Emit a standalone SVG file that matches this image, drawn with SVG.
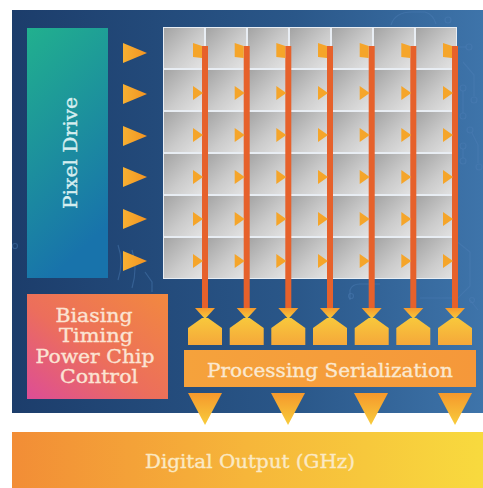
<svg xmlns="http://www.w3.org/2000/svg" width="483" height="488" viewBox="0 0 483 488">
  <defs>
    <linearGradient id="panelGrad" x1="0" y1="0" x2="1" y2="0">
      <stop offset="0" stop-color="#1c3d6b"/>
      <stop offset="0.6" stop-color="#2a5789"/>
      <stop offset="1" stop-color="#3e74aa"/>
    </linearGradient>
    <linearGradient id="driveGrad" x1="0" y1="0" x2="0.3" y2="1">
      <stop offset="0" stop-color="#21b08e"/>
      <stop offset="1" stop-color="#1873ab"/>
    </linearGradient>
    <linearGradient id="biasGrad" x1="1" y1="0" x2="0" y2="1">
      <stop offset="0" stop-color="#f2893f"/>
      <stop offset="0.55" stop-color="#ec6e5c"/>
      <stop offset="1" stop-color="#dd4d96"/>
    </linearGradient>
    <linearGradient id="cellGrad" x1="0" y1="0" x2="1" y2="1">
      <stop offset="0" stop-color="#a3a3a3"/>
      <stop offset="0.55" stop-color="#cbcbcb"/>
      <stop offset="1" stop-color="#e4e4e4"/>
    </linearGradient>
    <linearGradient id="barGrad" x1="0" y1="0" x2="1" y2="0">
      <stop offset="0" stop-color="#f5a23c"/>
      <stop offset="1" stop-color="#f5983a"/>
    </linearGradient>
    <linearGradient id="outGrad" x1="0" y1="0" x2="1" y2="0">
      <stop offset="0" stop-color="#f28d36"/>
      <stop offset="0.5" stop-color="#f6b63a"/>
      <stop offset="1" stop-color="#f8da3e"/>
    </linearGradient>
    <linearGradient id="triDown" x1="0" y1="0" x2="0" y2="1">
      <stop offset="0" stop-color="#f5982c"/>
      <stop offset="1" stop-color="#f8cc3c"/>
    </linearGradient>
    <linearGradient id="penta" x1="0" y1="0" x2="0" y2="1">
      <stop offset="0" stop-color="#f8c83c"/>
      <stop offset="1" stop-color="#f5a83a"/>
    </linearGradient>
    <linearGradient id="driveArrow" x1="0" y1="0" x2="1" y2="0">
      <stop offset="0" stop-color="#f7b032"/>
      <stop offset="1" stop-color="#f39422"/>
    </linearGradient>
    <style>
      .label { font-family: "DejaVu Serif", "Liberation Serif", serif; text-anchor: middle; stroke-width: 0.35; }
      .trace { fill: none; stroke: #4d7fb5; stroke-width: 1.2; opacity: 0.45; }
      .pad { fill: none; stroke: #4d7fb5; stroke-width: 1.2; opacity: 0.45; }
      .cell { fill: url(#cellGrad); }
      .wire { fill: #e6612b; }
      .tick { fill: #f5a52a; }
      .drive-arrow { fill: url(#driveArrow); }
      .neck { fill: url(#triDown); }
      .cap { fill: url(#penta); }
      .out-arrow { fill: url(#triDown); }
    </style>
  </defs>

  <!-- chip substrate -->
  <rect x="0" y="0" width="483" height="488" fill="#ffffff"/>
  <rect id="substrate" x="12" y="10" width="471" height="403" fill="url(#panelGrad)"/>

  <!-- faint circuit traces on the substrate -->
  <g id="traces">
    <path class="trace" d="M391 25 Q395 12 412 12 L425 12 Q433 14 436 24"/>
    <circle class="pad" cx="448" cy="20" r="3"/>
    <path class="trace" d="M458 47 L466 47"/>
    <circle class="pad" cx="469" cy="47" r="3"/>
    <path class="trace" d="M463 62 L474 75 L474 96"/>
    <circle class="pad" cx="474" cy="100" r="3"/>
    <circle class="pad" cx="463" cy="88" r="3"/>
    <path class="trace" d="M463 91 L463 113"/>
    <circle class="pad" cx="463" cy="116" r="3"/>
    <circle class="pad" cx="470" cy="130" r="3"/>
    <path class="trace" d="M472 133 L478 145 L478 163"/>
    <circle class="pad" cx="479" cy="167" r="3"/>
    <circle class="pad" cx="463" cy="146" r="3"/>
    <path class="trace" d="M463 149 L463 158"/>
    <circle class="pad" cx="463" cy="161" r="3"/>
    <path class="trace" d="M455 240 L470 252 L470 286 L458 298 L420 298"/>
    <path class="trace" d="M350 300 L350 290 Q352 284 360 284 L380 284"/>
    <circle class="pad" cx="351" cy="296" r="2.5"/>
    <path class="trace" d="M470 300 L478 310"/>
    <circle class="pad" cx="472" cy="300" r="2.5"/>
    <path class="trace" d="M118 245 Q124 262 118 280 M132 250 Q138 268 132 288 M145 272 L152 282 L152 292"/>
    <circle class="pad" cx="15" cy="246" r="2.5"/>
  </g>

  <!-- Pixel Drive -->
  <g id="pixel-drive">
    <rect x="27" y="28" width="81" height="250" fill="url(#driveGrad)"/>
    <text class="label" transform="translate(77 153) rotate(-90)" font-size="18" fill="#d6eef0" stroke="#d6eef0" textLength="112" lengthAdjust="spacingAndGlyphs">Pixel Drive</text>
  </g>

  <!-- row drive arrows -->
  <g id="drive-arrows">
    <polygon class="drive-arrow" points="123,43 147,53 123,63"/>
    <polygon class="drive-arrow" points="123,84 147,94 123,104"/>
    <polygon class="drive-arrow" points="123,126 147,136 123,146"/>
    <polygon class="drive-arrow" points="123,167 147,177 123,187"/>
    <polygon class="drive-arrow" points="123,209 147,219 123,229"/>
    <polygon class="drive-arrow" points="123,251 147,261 123,271"/>
  </g>

  <!-- pixel array 7 x 6 -->
  <g id="pixel-array">
    <rect x="163" y="27" width="294" height="252" fill="#e8edf3"/>
    <g id="cells">
      <rect class="cell" x="164" y="28" width="40" height="40"/><rect class="cell" x="206" y="28" width="40" height="40"/><rect class="cell" x="248" y="28" width="40" height="40"/><rect class="cell" x="290" y="28" width="40" height="40"/><rect class="cell" x="332" y="28" width="40" height="40"/><rect class="cell" x="374" y="28" width="40" height="40"/><rect class="cell" x="416" y="28" width="40" height="40"/>
      <rect class="cell" x="164" y="70" width="40" height="40"/><rect class="cell" x="206" y="70" width="40" height="40"/><rect class="cell" x="248" y="70" width="40" height="40"/><rect class="cell" x="290" y="70" width="40" height="40"/><rect class="cell" x="332" y="70" width="40" height="40"/><rect class="cell" x="374" y="70" width="40" height="40"/><rect class="cell" x="416" y="70" width="40" height="40"/>
      <rect class="cell" x="164" y="112" width="40" height="40"/><rect class="cell" x="206" y="112" width="40" height="40"/><rect class="cell" x="248" y="112" width="40" height="40"/><rect class="cell" x="290" y="112" width="40" height="40"/><rect class="cell" x="332" y="112" width="40" height="40"/><rect class="cell" x="374" y="112" width="40" height="40"/><rect class="cell" x="416" y="112" width="40" height="40"/>
      <rect class="cell" x="164" y="154" width="40" height="40"/><rect class="cell" x="206" y="154" width="40" height="40"/><rect class="cell" x="248" y="154" width="40" height="40"/><rect class="cell" x="290" y="154" width="40" height="40"/><rect class="cell" x="332" y="154" width="40" height="40"/><rect class="cell" x="374" y="154" width="40" height="40"/><rect class="cell" x="416" y="154" width="40" height="40"/>
      <rect class="cell" x="164" y="196" width="40" height="40"/><rect class="cell" x="206" y="196" width="40" height="40"/><rect class="cell" x="248" y="196" width="40" height="40"/><rect class="cell" x="290" y="196" width="40" height="40"/><rect class="cell" x="332" y="196" width="40" height="40"/><rect class="cell" x="374" y="196" width="40" height="40"/><rect class="cell" x="416" y="196" width="40" height="40"/>
      <rect class="cell" x="164" y="238" width="40" height="40"/><rect class="cell" x="206" y="238" width="40" height="40"/><rect class="cell" x="248" y="238" width="40" height="40"/><rect class="cell" x="290" y="238" width="40" height="40"/><rect class="cell" x="332" y="238" width="40" height="40"/><rect class="cell" x="374" y="238" width="40" height="40"/><rect class="cell" x="416" y="238" width="40" height="40"/>
    </g>
  </g>

  <!-- column readout lines with per-pixel taps -->
  <g id="connectors">
    <g id="col-1" transform="translate(205 0)">
      <rect class="wire" x="-3" y="46" width="6" height="263"/>
      <polygon class="tick" points="-12,43 -3,46 -3,58 -12,57"/>
      <polygon class="tick" points="-12,86 -2,93 -12,100"/><polygon class="tick" points="-12,128 -2,135 -12,142"/><polygon class="tick" points="-12,170 -2,177 -12,184"/><polygon class="tick" points="-12,212 -2,219 -12,226"/><polygon class="tick" points="-12,254 -2,261 -12,268"/>
    </g>
    <g id="col-2" transform="translate(246.7 0)">
      <rect class="wire" x="-3" y="46" width="6" height="263"/>
      <polygon class="tick" points="-12,43 -3,46 -3,58 -12,57"/>
      <polygon class="tick" points="-12,86 -2,93 -12,100"/><polygon class="tick" points="-12,128 -2,135 -12,142"/><polygon class="tick" points="-12,170 -2,177 -12,184"/><polygon class="tick" points="-12,212 -2,219 -12,226"/><polygon class="tick" points="-12,254 -2,261 -12,268"/>
    </g>
    <g id="col-3" transform="translate(288.3 0)">
      <rect class="wire" x="-3" y="46" width="6" height="263"/>
      <polygon class="tick" points="-12,43 -3,46 -3,58 -12,57"/>
      <polygon class="tick" points="-12,86 -2,93 -12,100"/><polygon class="tick" points="-12,128 -2,135 -12,142"/><polygon class="tick" points="-12,170 -2,177 -12,184"/><polygon class="tick" points="-12,212 -2,219 -12,226"/><polygon class="tick" points="-12,254 -2,261 -12,268"/>
    </g>
    <g id="col-4" transform="translate(330 0)">
      <rect class="wire" x="-3" y="46" width="6" height="263"/>
      <polygon class="tick" points="-12,43 -3,46 -3,58 -12,57"/>
      <polygon class="tick" points="-12,86 -2,93 -12,100"/><polygon class="tick" points="-12,128 -2,135 -12,142"/><polygon class="tick" points="-12,170 -2,177 -12,184"/><polygon class="tick" points="-12,212 -2,219 -12,226"/><polygon class="tick" points="-12,254 -2,261 -12,268"/>
    </g>
    <g id="col-5" transform="translate(371.7 0)">
      <rect class="wire" x="-3" y="46" width="6" height="263"/>
      <polygon class="tick" points="-12,43 -3,46 -3,58 -12,57"/>
      <polygon class="tick" points="-12,86 -2,93 -12,100"/><polygon class="tick" points="-12,128 -2,135 -12,142"/><polygon class="tick" points="-12,170 -2,177 -12,184"/><polygon class="tick" points="-12,212 -2,219 -12,226"/><polygon class="tick" points="-12,254 -2,261 -12,268"/>
    </g>
    <g id="col-6" transform="translate(413.3 0)">
      <rect class="wire" x="-3" y="46" width="6" height="263"/>
      <polygon class="tick" points="-12,43 -3,46 -3,58 -12,57"/>
      <polygon class="tick" points="-12,86 -2,93 -12,100"/><polygon class="tick" points="-12,128 -2,135 -12,142"/><polygon class="tick" points="-12,170 -2,177 -12,184"/><polygon class="tick" points="-12,212 -2,219 -12,226"/><polygon class="tick" points="-12,254 -2,261 -12,268"/>
    </g>
    <g id="col-7" transform="translate(455 0)">
      <rect class="wire" x="-3" y="46" width="6" height="263"/>
      <polygon class="tick" points="-12,43 -3,46 -3,58 -12,57"/>
      <polygon class="tick" points="-12,86 -2,93 -12,100"/><polygon class="tick" points="-12,128 -2,135 -12,142"/><polygon class="tick" points="-12,170 -2,177 -12,184"/><polygon class="tick" points="-12,212 -2,219 -12,226"/><polygon class="tick" points="-12,254 -2,261 -12,268"/>
    </g>
  </g>

  <!-- column readout amplifiers -->
  <g id="column-amps">
    <g transform="translate(205 0)"><polygon class="neck" points="-10,308 10,308 0,319"/><path class="cap" d="M-3 318 L3 318 L17 328 L17 345 L-17 345 L-17 328 Z"/></g>
    <g transform="translate(246.7 0)"><polygon class="neck" points="-10,308 10,308 0,319"/><path class="cap" d="M-3 318 L3 318 L17 328 L17 345 L-17 345 L-17 328 Z"/></g>
    <g transform="translate(288.3 0)"><polygon class="neck" points="-10,308 10,308 0,319"/><path class="cap" d="M-3 318 L3 318 L17 328 L17 345 L-17 345 L-17 328 Z"/></g>
    <g transform="translate(330 0)"><polygon class="neck" points="-10,308 10,308 0,319"/><path class="cap" d="M-3 318 L3 318 L17 328 L17 345 L-17 345 L-17 328 Z"/></g>
    <g transform="translate(371.7 0)"><polygon class="neck" points="-10,308 10,308 0,319"/><path class="cap" d="M-3 318 L3 318 L17 328 L17 345 L-17 345 L-17 328 Z"/></g>
    <g transform="translate(413.3 0)"><polygon class="neck" points="-10,308 10,308 0,319"/><path class="cap" d="M-3 318 L3 318 L17 328 L17 345 L-17 345 L-17 328 Z"/></g>
    <g transform="translate(455 0)"><polygon class="neck" points="-10,308 10,308 0,319"/><path class="cap" d="M-3 318 L3 318 L17 328 L17 345 L-17 345 L-17 328 Z"/></g>
  </g>

  <!-- Biasing / Timing / Power / Chip Control -->
  <g id="bias-control">
    <rect x="27" y="294" width="141" height="105" fill="url(#biasGrad)"/>
    <text class="label" font-size="18.5" fill="#fbe3d3" stroke="#fbe3d3">
      <tspan x="97" y="322" textLength="77" lengthAdjust="spacingAndGlyphs">Biasing</tspan>
      <tspan x="99" y="342" textLength="74" lengthAdjust="spacingAndGlyphs">Timing</tspan>
      <tspan x="98" y="363" textLength="119" lengthAdjust="spacingAndGlyphs">Power Chip</tspan>
      <tspan x="99" y="383" textLength="78" lengthAdjust="spacingAndGlyphs">Control</tspan>
    </text>
  </g>

  <!-- Processing Serialization -->
  <g id="serializer">
    <rect x="184" y="350" width="292" height="37" fill="url(#barGrad)"/>
    <text class="label" x="330" y="377" font-size="19" fill="#fbe8cf" stroke="#fbe8cf" textLength="246" lengthAdjust="spacingAndGlyphs">Processing Serialization</text>
  </g>

  <!-- serial output arrows -->
  <g id="output-arrows">
    <polygon class="out-arrow" points="188,393 222,393 205,425"/>
    <polygon class="out-arrow" points="271,393 305,393 288,425"/>
    <polygon class="out-arrow" points="354,393 388,393 371,425"/>
    <polygon class="out-arrow" points="438,393 472,393 455,425"/>
  </g>

  <!-- Digital Output -->
  <g id="digital-output">
    <rect x="12" y="432" width="471" height="56" fill="url(#outGrad)"/>
    <text class="label" x="250" y="468" font-size="18.5" fill="#fbe9c4" stroke="#fbe9c4" textLength="210" lengthAdjust="spacingAndGlyphs">Digital Output (GHz)</text>
  </g>
</svg>
